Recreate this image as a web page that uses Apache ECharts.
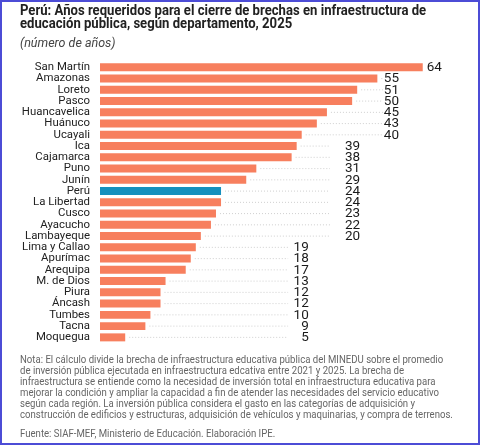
<!DOCTYPE html>
<html>
<head>
<meta charset="utf-8">
<script src="https://cdn.jsdelivr.net/npm/echarts@6/dist/echarts.min.js"></script>
<style>
  html, body { margin: 0; padding: 0; background: #fff; }
  #chart { width: 480px; height: 445px; }
</style>
</head>
<body>
<div id="chart"></div>
<script>
// departamentos, de mayor a menor
var departamentos = ['San Martín', 'Amazonas', 'Loreto', 'Pasco', 'Huancavelica', 'Huánuco', 'Ucayali',
  'Ica', 'Cajamarca', 'Puno', 'Junín', 'Perú', 'La Libertad', 'Cusco', 'Ayacucho', 'Lambayeque',
  'Lima y Callao', 'Apurímac', 'Arequipa', 'M. de Dios', 'Piura', 'Áncash', 'Tumbes', 'Tacna', 'Moquegua'];
var anios = [64, 55, 51, 50, 45, 43, 40, 39, 38, 31, 29, 24, 24, 23, 22, 20, 19, 18, 17, 13, 12, 12, 10, 9, 5];
var destacado = 'Perú';

var titulo = 'Perú: Años requeridos para el cierre de brechas en infraestructura de\neducación pública, según departamento, 2025';
var subtitulo = '(número de años)';
var nota = [
  'Nota: El cálculo divide la brecha de infraestructura educativa pública del MINEDU sobre el promedio',
  'de inversión pública ejecutada en infraestructura edcativa entre 2021 y 2025. La brecha de',
  'infraestructura se entiende como la necesidad de inversión total en infraestructura educativa para',
  'mejorar la condición y ampliar la capacidad a fin de atender las necesidades del servicio educativo',
  'según cada región. La inversión pública considera el gasto en las categorías de adquisición y',
  'construcción de edificios y estructuras, adquisición de vehículos y maquinarias, y compra de terrenos.'
];
var fuente = 'Fuente: SIAF-MEF, Ministerio de Educación. Elaboración IPE.';

// columnas de etiquetas (en unidades del eje) segun tramo de valor
var tramos = [
  { desde: 60, punto: 0, etiqueta: 67.8 },
  { desde: 40, punto: 56.1, etiqueta: 59.3 },
  { desde: 20, punto: 45.6, etiqueta: 51.6 },
  { desde: 0, punto: 37.3, etiqueta: 41.4 }
];
function tramoDe(v) {
  for (var i = 0; i < tramos.length; i++) {
    if (v >= tramos[i].desde) return tramos[i];
  }
  return tramos[tramos.length - 1];
}

var FONT = 'Roboto, "Noto Sans", sans-serif';
var naranja = '#F77F5E';
var azul = '#1590BE';

var chart = echarts.init(document.getElementById('chart'), null, { renderer: 'canvas' });

var barras = departamentos.map(function (d, i) {
  return {
    value: anios[i],
    itemStyle: { color: d === destacado ? azul : naranja }
  };
});
var etiquetas = departamentos.map(function (d, i) {
  return [anios[i], i];
});

chart.setOption({
  animation: false,
  backgroundColor: '#fff',
  grid: { left: 100, right: 27, top: 61.7, bottom: 102, containLabel: false },
  xAxis: {
    type: 'value', min: 0, max: 70,
    show: false
  },
  yAxis: {
    type: 'category',
    inverse: true,
    data: departamentos,
    axisLine: { show: false },
    axisTick: { show: false },
    axisLabel: { interval: 0, margin: 10, fontSize: 11.4, color: '#222', fontFamily: FONT }
  },
  series: [
    {
      type: 'bar',
      data: barras,
      barCategoryGap: '29%',
      silent: true
    },
    {
      type: 'custom',
      data: etiquetas,
      silent: true,
      z: 3,
      renderItem: function (params, api) {
        var v = api.value(0);
        var idx = api.value(1);
        var fin = api.coord([v, idx]);
        var t = tramoDe(v);
        var hijos = [];
        var pFin = api.coord([t.punto, idx]);
        if (pFin[0] > fin[0] + 4) {
          hijos.push({
            type: 'line',
            shape: { x1: fin[0] + 4, y1: fin[1], x2: pFin[0], y2: fin[1] },
            style: { stroke: '#cfcfcf', lineWidth: 1, lineDash: [1, 2] }
          });
        }
        var pEt = api.coord([t.etiqueta, idx]);
        hijos.push({
          type: 'text',
          style: {
            text: String(v), x: pEt[0], y: fin[1] + 0.5,
            align: 'right', verticalAlign: 'middle',
            fontSize: 13.5, fontFamily: FONT, fill: '#1a1a1a'
          }
        });
        return { type: 'group', children: hijos };
      }
    }
  ],
  graphic: [
    {
      type: 'text', x: 20, y: 4.5, scaleX: 0.937,
      style: {
        text: titulo, fontSize: 14, fontWeight: 'bold', lineHeight: 13.5,
        fontFamily: FONT, fill: '#222'
      }
    },
    {
      type: 'text', x: 20, y: 37,
      style: {
        text: subtitulo, fontSize: 12.5, fontStyle: 'italic',
        fontFamily: FONT, fill: '#444'
      }
    },
    {
      type: 'text', x: 20, y: 355, scaleX: 0.914,
      style: {
        text: nota.join('\n'), fontSize: 10.5, lineHeight: 11,
        fontFamily: FONT, fill: '#666'
      }
    },
    {
      type: 'text', x: 20, y: 428.5, scaleX: 0.914,
      style: {
        text: fuente, fontSize: 10.5, fontFamily: FONT, fill: '#666'
      }
    },
    {
      type: 'rect', z: 100,
      shape: { x: 1, y: 1, width: 478, height: 443 },
      style: { fill: 'none', stroke: '#4c4cd6', lineWidth: 2 }
    }
  ]
});
</script>
</body>
</html>
